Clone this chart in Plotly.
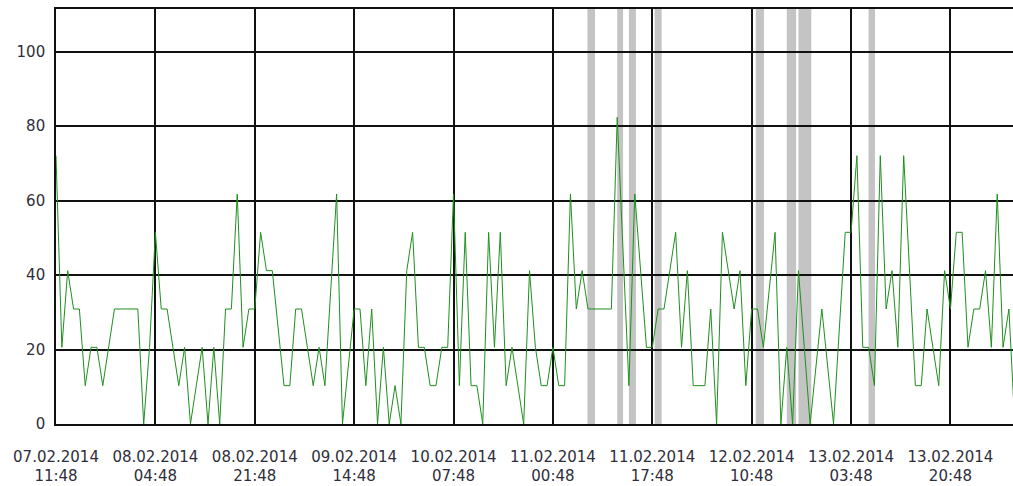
import plotly.graph_objects as go
from datetime import datetime, timedelta

# ---- data ----
start_time = datetime(2014, 2, 7, 11, 48)

hours = [0, 1, 2, 3, 4, 5, 6, 7, 8, 9, 10, 11, 12, 13, 14, 15, 16, 17, 18, 19,
         20, 21, 22, 23, 24, 25, 26, 27, 28, 29, 30, 31, 32, 33, 34, 35, 36, 37,
         39, 40, 41, 42, 43, 44, 45, 46, 48, 49, 51, 52, 53, 54, 55, 56, 57, 58,
         59, 60, 61, 62, 63, 64, 65, 66, 67, 68, 69, 70, 71, 72, 73, 74, 75, 76,
         77, 78, 79, 80, 81, 82, 83, 84, 85, 86, 87, 88, 89, 90, 91, 92, 93, 94,
         95, 96, 98, 99, 100, 101, 102, 103, 104, 105, 106, 107, 108, 109, 110,
         111, 112, 113, 114, 115, 116, 117, 118, 119, 120, 121, 123, 124, 125,
         126, 127, 128, 129, 131, 133, 135, 136, 137, 138, 139, 140, 141, 142,
         143, 144, 145, 146, 147, 148, 149, 150, 151, 152, 153, 154, 155, 156,
         157, 158, 159, 160, 161, 162, 163, 164]

values = [72.1, 20.6, 41.2, 30.9, 30.9, 10.3, 20.6, 20.6, 10.3, 20.6, 30.9, 30.9,
          30.9, 30.9, 30.9, 0, 20.6, 51.5, 30.9, 30.9, 20.6, 10.3, 20.6, 0, 10.3,
          20.6, 0, 20.6, 0, 30.9, 30.9, 61.8, 20.6, 30.9, 30.9, 51.5, 41.2, 41.2,
          10.3, 10.3, 30.9, 30.9, 20.6, 10.3, 20.6, 10.3, 61.8, 0, 30.9, 30.9,
          10.3, 30.9, 0, 20.6, 0, 10.3, 0, 41.2, 51.5, 20.6, 20.6, 10.3, 10.3,
          20.6, 20.6, 61.8, 10.3, 51.5, 10.3, 10.3, 0, 51.5, 20.6, 51.5, 10.3,
          20.6, 10.3, 0, 41.2, 20.6, 10.3, 10.3, 20.6, 10.3, 10.3, 61.8, 30.9,
          41.2, 30.9, 30.9, 30.9, 30.9, 30.9, 82.4, 10.3, 61.8, 41.2, 20.6, 20.6,
          30.9, 30.9, 41.2, 51.5, 20.6, 41.2, 10.3, 10.3, 10.3, 30.9, 0, 51.5,
          41.2, 30.9, 41.2, 10.3, 30.9, 30.9, 20.6, 51.5, 0, 20.6, 0, 41.2, 20.6,
          0, 30.9, 0, 51.5, 51.5, 72.1, 20.6, 20.6, 10.3, 72.1, 30.9, 41.2, 20.6,
          72.1, 41.2, 10.3, 10.3, 30.9, 20.6, 10.3, 41.2, 30.9, 51.5, 51.5, 20.6,
          30.9, 30.9, 41.2, 20.6, 61.8, 20.6, 30.9, 0]

# grey marked intervals (hours after start)
band_starts = [90.9, 96.0, 98.0, 102.4, 119.7, 125.0, 127.0, 139.0]
band_ends = [92.2, 97.0, 99.2, 103.6, 121.1, 126.6, 129.2, 140.1]

tick_hours = [0, 17, 34, 51, 68, 85, 102, 119, 136, 153]
y_ticks = [0, 20, 40, 60, 80, 100]
x_end_hours = 163.7
y_max = 111.5

# ---- figure ----
def t(h):
    return start_time + timedelta(hours=h)

x_times = [t(h) for h in hours]
tick_times = [t(h) for h in tick_hours]
tick_text = [d.strftime("%d.%m.%Y<br>%H:%M") for d in tick_times]

fig = go.Figure()
fig.add_trace(go.Scatter(
    x=x_times, y=values, mode="lines",
    line=dict(color="#1f8f1f", width=1),
    hoverinfo="x+y", showlegend=False,
))

shapes = []
for s, e in zip(band_starts, band_ends):
    shapes.append(dict(
        type="rect", xref="x", yref="paper",
        x0=t(s), x1=t(e), y0=0, y1=1,
        fillcolor="#c4c4c4", line=dict(width=0), layer="below",
    ))

label_font = dict(family="DejaVu Sans", size=15, color="#2e2e3a")

fig.update_layout(
    width=1013, height=486,
    margin=dict(l=56, r=0, t=9, b=62, autoexpand=False),
    paper_bgcolor="white", plot_bgcolor="white",
    shapes=shapes,
    xaxis=dict(
        type="date", automargin=False,
        range=[t(0), t(x_end_hours)],
        tickmode="array", tickvals=tick_times, ticktext=tick_text,
        showgrid=True, gridcolor="#111111", gridwidth=1.6,
        showline=True, linecolor="#111111", linewidth=1.6, mirror=True,
        ticks="", tickfont=label_font, ticklabelstandoff=18,
        zeroline=False,
    ),
    yaxis=dict(
        automargin=False,
        range=[0, y_max],
        tickmode="array", tickvals=y_ticks,
        showgrid=True, gridcolor="#111111", gridwidth=1.6,
        showline=True, linecolor="#111111", linewidth=1.6,
        ticks="", tickfont=label_font, ticklabelstandoff=6,
        zeroline=False,
    ),
)

# remove the default page margin so the 1013x486 figure fills the window exactly
fig.write_html(
    "out.html",
    config={"displayModeBar": False},
    post_script="document.body.style.margin='0';document.body.style.overflow='hidden';",
)
